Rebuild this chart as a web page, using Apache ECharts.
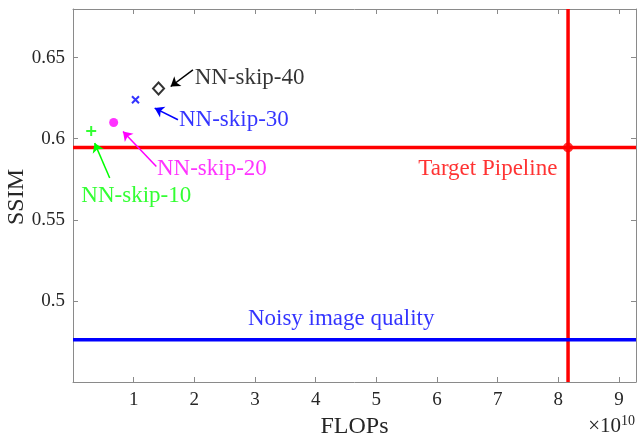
<!DOCTYPE html>
<html><head><meta charset="utf-8">
<script src="https://cdn.jsdelivr.net/npm/echarts@6/dist/echarts.min.js"></script>
<style>html,body{margin:0;padding:0;background:#fff}#c{width:637px;height:439px}</style>
</head><body><div id="c"></div>
<script>
// Data (FLOPs in units of 1e10)
const names = ['NN-skip-10', 'NN-skip-20', 'NN-skip-30', 'NN-skip-40'];
const flops = [0.30, 0.67, 1.03, 1.41];
const ssim = [0.6047, 0.610, 0.624, 0.631];
const targetFlops = 8.16;
const targetSsim = 0.5946;
const noisySsim = 0.476;
const xMin = 0, xMax = 9.28, yMin = 0.45, yMax = 0.68;

// Annotation placements (data coords)
const labelPos = [[0.138, 0.5647], [1.384, 0.5815], [1.746, 0.6113], [2.005, 0.6374]];
const arrowTail = [[0.605, 0.5758], [1.374, 0.5829], [1.73, 0.6117], [1.977, 0.6425]];
const arrowHead = [[0.357, 0.5973], [0.824, 0.6045], [1.346, 0.6189], [1.61, 0.6322]];
const colors = ['#00ff00', '#ff00ff', '#0000ff', '#000000'];

const FONT = '"Liberation Serif", "Times New Roman", serif';
const chart = echarts.init(document.getElementById('c'), null, {renderer: 'canvas'});
const axisGray = '#8a8a8a';
const baseX = {type: 'value', min: xMin, max: xMax, interval: 1,
  axisLine: {show: true, onZero: false, lineStyle: {color: axisGray, width: 1}},
  axisTick: {show: true, inside: true, length: 5, lineStyle: {color: axisGray}},
  splitLine: {show: false}};
const baseY = {type: 'value', min: yMin, max: yMax, interval: 0.05,
  axisLine: {show: true, onZero: false, lineStyle: {color: axisGray, width: 1}},
  axisTick: {show: true, inside: true, length: 5, lineStyle: {color: axisGray}},
  splitLine: {show: false}};

const plus = 'path://M5,0L5,10M0,5L10,5';
const cross = 'path://M0,0L10,10M10,0L0,10';
const markerStyles = [
  {symbol: plus, symbolSize: 10, itemStyle: {color: 'none', borderColor: colors[0], borderWidth: 2}},
  {symbol: 'circle', symbolSize: 9, itemStyle: {color: colors[1]}},
  {symbol: cross, symbolSize: 7, itemStyle: {color: 'none', borderColor: colors[2], borderWidth: 2}},
  {symbol: 'diamond', symbolSize: [11, 12], itemStyle: {color: '#fff', borderColor: colors[3], borderWidth: 2}}
];

const series = [];
// reference lines
series.push({type: 'line', data: [[xMin, targetSsim], [xMax, targetSsim]], symbol: 'none',
  lineStyle: {color: '#ff0000', width: 3.5}, silent: true, z: 2});
series.push({type: 'line', data: [[targetFlops, yMin], [targetFlops, yMax]], symbol: 'none',
  lineStyle: {color: '#ff0000', width: 3.5}, silent: true, z: 2});
series.push({type: 'line', data: [[xMin, noisySsim], [xMax, noisySsim]], symbol: 'none',
  lineStyle: {color: '#0000ff', width: 3.5}, silent: true, z: 2});
series.push({type: 'scatter', data: [[targetFlops, targetSsim]], symbol: 'circle', symbolSize: 10,
  itemStyle: {color: '#ff0000'}, z: 3});
// points
names.forEach((n, i) => {
  series.push(Object.assign({type: 'scatter', name: n, data: [[flops[i], ssim[i]]], z: 4}, markerStyles[i]));
});
// annotation labels + arrows
series.push({type: 'scatter', symbolSize: 0, z: 5,
  data: names.map((n, i) => ({value: labelPos[i], label: {show: true, position: 'right', distance: 0,
    formatter: n, color: colors[i], fontFamily: FONT, fontSize: 23}})),
  markLine: {silent: true, symbol: ['none', 'arrow'], symbolSize: 9, label: {show: false},
    data: names.map((n, i) => [{coord: arrowTail[i], lineStyle: {color: colors[i], width: 1.5, type: 'solid'}},
      {coord: arrowHead[i]}])}
});
series.push({type: 'scatter', symbolSize: 0, z: 5,
  data: [
    {value: [6.837, 0.5811], label: {show: true, position: 'inside', formatter: 'Target Pipeline', color: '#ff0000', fontFamily: FONT, fontSize: 23}},
    {value: [4.42, 0.489], label: {show: true, position: 'inside', formatter: 'Noisy image quality', color: '#0000ff', fontFamily: FONT, fontSize: 23}}
  ]});

chart.setOption({
  animation: false,
  backgroundColor: '#fff',
  grid: {left: 73, right: 1, top: 9, bottom: 57, containLabel: false, outerBoundsMode: 'none'},
  xAxis: [
    Object.assign({}, baseX, {position: 'bottom', name: 'FLOPs', nameLocation: 'middle', nameGap: 30,
      nameTextStyle: {fontFamily: FONT, fontSize: 24, color: '#262626'},
      axisLabel: {fontFamily: FONT, fontSize: 19, color: '#262626', margin: 9, showMinLabel: false,
        formatter: v => (v === 0 ? '' : String(v))}}),
    Object.assign({}, baseX, {position: 'top', axisLabel: {show: false}})
  ],
  yAxis: [
    Object.assign({}, baseY, {position: 'left',
      axisLabel: {fontFamily: FONT, fontSize: 19, color: '#262626', margin: 8, showMinLabel: false, showMaxLabel: false,
        formatter: v => String(+v.toFixed(2))}}),
    Object.assign({}, baseY, {position: 'right', axisLabel: {show: false}})
  ],
  graphic: [
    {type: 'text', x: 17, y: 197, rotation: Math.PI / 2,
      style: {text: 'SSIM', align: 'center', verticalAlign: 'middle', font: '24px ' + FONT, fill: '#262626'}},
    {type: 'text', right: 2, bottom: 2,
    style: {text: '×10{s|10}', rich: {s: {fontSize: 14, verticalAlign: 'top', fontFamily: FONT, fill: '#262626', padding: [0, 0, 10, 0]}},
      font: '21px ' + FONT, fill: '#262626'}}],
  series: series
});
</script></body></html>
